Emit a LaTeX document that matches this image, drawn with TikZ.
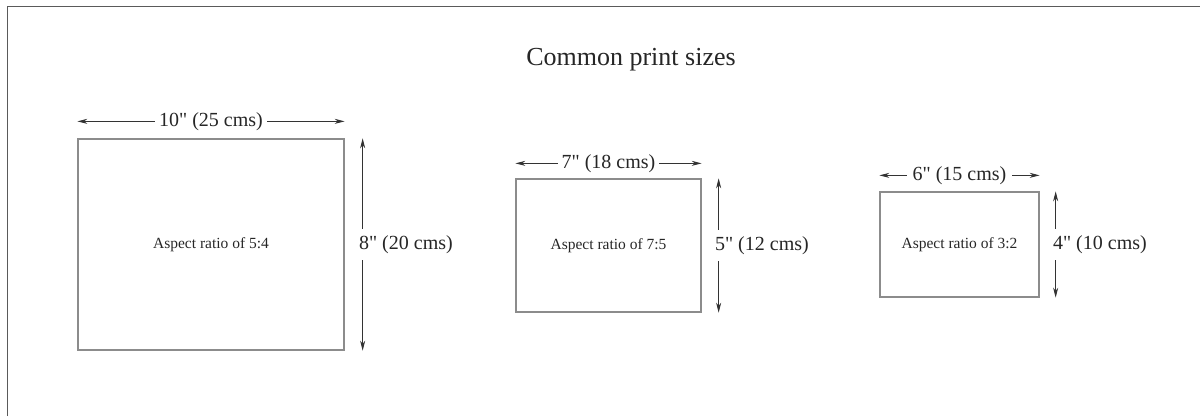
\documentclass[tikz,border=0pt]{standalone}
\usepackage{fontspec}
\setmainfont{Liberation Serif}[Ligatures=TeXOff]
\usetikzlibrary{arrows.meta}
\definecolor{txt}{HTML}{262626}
\definecolor{boxc}{HTML}{8C8C8C}
\definecolor{arr}{HTML}{333333}
\definecolor{frame}{HTML}{5A5A5A}
\tikzset{
  pbox/.style={draw=boxc, line width=1.3pt, inner sep=0pt, text=txt, font=\fontsize{15.5}{17}\selectfont},
  dimline/.style={draw=arr, line width=0.8pt, {Stealth[length=10pt,width=5pt]}-{Stealth[length=10pt,width=5pt]}},
  hlab/.style={fill=white, text=txt, inner xsep=4pt, inner ysep=2pt, font=\fontsize{20}{22}\selectfont},
  vlab/.style={fill=white, text=txt, anchor=west, inner xsep=3pt, inner ysep=6pt, font=\fontsize{20}{22}\selectfont},
  titlestyle/.style={text=txt, font=\fontsize{26}{28}\selectfont}
}
\begin{document}
\begin{tikzpicture}[x=1pt,y=-1pt]
\useasboundingbox (0,0) rectangle (1204,416);
\coordinate (f1) at (7.5,416);
\coordinate (f2) at (7.5,6.5);
\coordinate (f3) at (1200,6.5);
\draw[frame, line width=1.6pt] (f1) -- (f2) -- (f3);

\node[titlestyle] (title) at (631,60) {Common print sizes};

% box 1
\node[pbox, minimum width=266pt, minimum height=211pt] (b1) at (211,244.5) {Aspect ratio of 5:4};
\draw[dimline] ([yshift=17pt]b1.north west) -- node[hlab] (h1) {10" (25 cms)} ([yshift=17pt]b1.north east);
\draw[dimline] ([xshift=18pt]b1.north east) -- node[vlab, xshift=-7pt] (v1) {8" (20 cms)} ([xshift=18pt]b1.south east);

% box 2
\node[pbox, minimum width=185pt, minimum height=133pt] (b2) at (608.5,245.5) {Aspect ratio of 7:5};
\draw[dimline] ([yshift=15pt]b2.north west) -- node[hlab] (h2) {7" (18 cms)} ([yshift=15pt]b2.north east);
\draw[dimline] ([xshift=17pt]b2.north east) -- node[vlab, xshift=-7pt] (v2) {5" (12 cms)} ([xshift=17pt]b2.south east);

% box 3
\node[pbox, minimum width=159pt, minimum height=105pt] (b3) at (959.5,244.5) {Aspect ratio of 3:2};
\draw[dimline] ([yshift=16pt]b3.north west) -- node[hlab, inner xsep=6pt] (h3) {6" (15 cms)} ([yshift=16pt]b3.north east);
\draw[dimline] ([xshift=16pt]b3.north east) -- node[vlab, xshift=-6pt] (v3) {4" (10 cms)} ([xshift=16pt]b3.south east);
\end{tikzpicture}
\end{document}
